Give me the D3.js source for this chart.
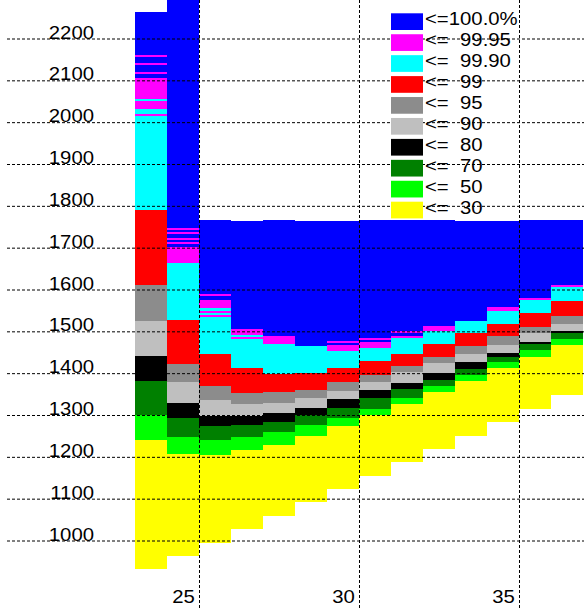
<!DOCTYPE html>
<html>
<head>
<meta charset="utf-8">
<script src="https://cdn.jsdelivr.net/npm/d3@7"></script>
<style>
  html, body { margin: 0; padding: 0; background: #fff; }
  svg { display: block; }
  text { font-family: "Liberation Sans", Arial, Helvetica, sans-serif; font-size: 18px; fill: #000; }
</style>
</head>
<body>
<svg id="chart" width="584" height="610"></svg>
<script>
// Age of each column
const ages = [24, 25, 26, 27, 28, 29, 30, 31, 32, 33, 34, 35, 36, 37];

// Lowest value at each age
const minimum = [933, 965, 995, 1029, 1060, 1094, 1124, 1156, 1190, 1220, 1252, 1285, 1316, 1349];

// Upper bound of each percentile band at each age
const p30 = [1241, 1209, 1206, 1218, 1230, 1251, 1275, 1301, 1328, 1356, 1383, 1414, 1440, 1469];
const p50 = [1301, 1249, 1241, 1249, 1261, 1277, 1294, 1316, 1342, 1371, 1397, 1428, 1457, 1483];
const p70 = [1383, 1294, 1275, 1277, 1284, 1301, 1318, 1342, 1363, 1385, 1411, 1440, 1471, 1497];
const p80 = [1442, 1331, 1299, 1299, 1306, 1318, 1339, 1361, 1378, 1402, 1428, 1449, 1476, 1502];
const p90 = [1526, 1380, 1337, 1328, 1330, 1342, 1359, 1380, 1404, 1426, 1447, 1469, 1497, 1519];
const p95 = [1612, 1423, 1371, 1354, 1356, 1361, 1380, 1397, 1418, 1440, 1466, 1490, 1512, 1538];
const p99 = [1791, 1528, 1447, 1414, 1400, 1402, 1414, 1430, 1447, 1471, 1497, 1519, 1545, 1574];

// Cells above the 99th percentile, bottom to top: [upper value, band]
// band 7 = <=99.90, 8 = <=99.95, 9 = <=100.0%
const tailRuns = [
  [[2016,7],[2021,8],[2033,7],[2052,8],[2057,7],[2107,8],[2116,9],[2121,8],[2138,9],[2143,8],[2157,9],[2162,8],[2265,9]],
  [[1665,7],[1703,8],[1710,9],[1715,8],[1720,9],[1724,8],[1734,9],[1739,8],[1743,9],[1748,8],[2300,9]],
  [[1536,7],[1540,8],[1545,7],[1550,8],[1557,7],[1576,8],[1586,9],[1591,8],[1767,9]],
  [[1483,7],[1488,8],[1492,7],[1507,8],[1765,9]],
  [[1471,7],[1490,8],[1767,9]],
  [[1466,7],[1765,9]],
  [[1454,7],[1469,8],[1473,9],[1478,8],[1765,9]],
  [[1461,7],[1476,8],[1481,9],[1485,8],[1767,9]],
  [[1486,7],[1491,8],[1497,9],[1502,8],[1767,9]],
  [[1502,7],[1514,8],[1767,9]],
  [[1526,7],[1765,9]],
  [[1550,7],[1559,8],[1765,9]],
  [[1576,7],[1581,8],[1767,9]],
  [[1607,7],[1612,8],[1767,9]]
];

// Legend labels per band, lowest first
const bandLabels = ["<=  30", "<=  50", "<=  70", "<=  80", "<=  90", "<=  95", "<=  99", "<=  99.90", "<=  99.95", "<=100.0%"];
const bandColors = ["#ffff00", "#00ff00", "#008000", "#000000", "#bfbfbf", "#8c8c8c", "#ff0000", "#00ffff", "#ff00ff", "#0000ff"];

// Axis ticks
const yTicks = [1000, 1100, 1200, 1300, 1400, 1500, 1600, 1700, 1800, 1900, 2000, 2100, 2200];
const xTicks = [25, 30, 35];

const W = 584, H = 610;
const svg = d3.select("#chart");
svg.append("rect").attr("width", W).attr("height", H).attr("fill", "#fff");

const x = d3.scaleLinear().domain([23.5, 37.5]).range([135, 583]);
const y = d3.scaleLinear().domain([1000, 2200]).range([541, 39]);
const stretch = "scale(1.13,1)";

// Flatten every column into stacked cells
const lowerBands = [p30, p50, p70, p80, p90, p95, p99];
const cells = [];
ages.forEach((age, i) => {
  let lo = minimum[i];
  lowerBands.forEach((arr, b) => { cells.push({ age, lo, hi: arr[i], band: b }); lo = arr[i]; });
  tailRuns[i].forEach(([hi, b]) => { cells.push({ age, lo, hi, band: b }); lo = hi; });
});

svg.append("g")
  .attr("shape-rendering", "crispEdges")
  .selectAll("rect")
  .data(cells)
  .join("rect")
  .attr("x", d => x(d.age - 0.5))
  .attr("width", d => x(d.age + 0.5) - x(d.age - 0.5))
  .attr("y", d => y(d.hi))
  .attr("height", d => y(d.lo) - y(d.hi))
  .attr("fill", d => bandColors[d.band]);

// Dashed grid over the cells
const grid = svg.append("g")
  .attr("stroke", "#000")
  .attr("stroke-width", 1)
  .attr("stroke-dasharray", "3,2")
  .attr("fill", "none");

grid.selectAll("line.h")
  .data(yTicks)
  .join("line")
  .attr("class", "h")
  .attr("x1", 7).attr("x2", W)
  .attr("y1", d => y(d)).attr("y2", d => y(d));

grid.selectAll("line.v")
  .data(xTicks)
  .join("line")
  .attr("class", "v")
  .attr("x1", d => Math.round(x(d + 0.5)) + 0.5).attr("x2", d => Math.round(x(d + 0.5)) + 0.5)
  .attr("y1", 0).attr("y2", H);

// Y axis labels sit just above their grid line
const gy = svg.append("g")
  .attr("transform", "translate(94,0)")
  .call(d3.axisLeft(y).tickValues(yTicks).tickSize(0).tickPadding(0).tickFormat(d3.format("d")));
gy.attr("font-size", null).attr("font-family", null);
gy.select(".domain").remove();
gy.selectAll("text").attr("x", 0).attr("dy", null).attr("y", -1).attr("transform", stretch);

// X axis labels along the bottom
const gx = svg.append("g")
  .attr("transform", "translate(0,602.5)")
  .call(d3.axisBottom(x).tickValues(xTicks).tickSize(0).tickPadding(0).tickFormat(d3.format("d")));
gx.attr("font-size", null).attr("font-family", null);
gx.select(".domain").remove();
gx.selectAll("text").attr("y", 0).attr("dy", null).attr("transform", stretch);

// Legend, highest band first
const order = d3.range(bandLabels.length).reverse();
const ly = d3.scaleLinear().domain([0, order.length - 1]).range([13.3, 201.7]);
const legend = svg.append("g");
const item = legend.selectAll("g")
  .data(order)
  .join("g")
  .attr("transform", (d, i) => `translate(0,${ly(i)})`);
item.append("rect")
  .attr("x", 391).attr("y", 0)
  .attr("width", 32).attr("height", 16.7)
  .attr("fill", d => bandColors[d]);
item.append("text")
  .attr("xml:space", "preserve")
  .style("white-space", "pre")
  .attr("transform", `translate(425,11.8) ${stretch}`)
  .text(d => bandLabels[d]);
</script>
</body>
</html>
